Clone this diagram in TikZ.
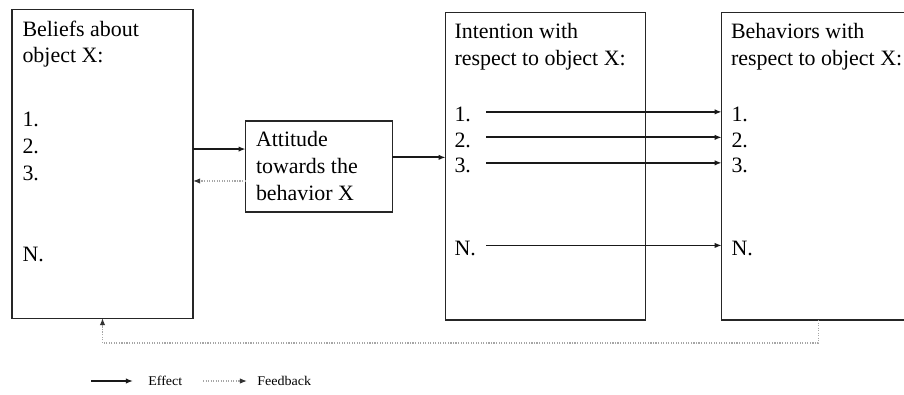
\documentclass[tikz,border=0pt]{standalone}
\usepackage{fontspec}
\setmainfont{Liberation Serif}
\usetikzlibrary{arrows.meta,calc}

\tikzset{
  box/.style={draw=black!85, line width=0.75pt, inner sep=0pt, outer sep=0pt},
  txt/.style={anchor=base west, inner sep=0pt, outer sep=0pt,
              font=\fontsize{15.6}{18.8}\selectfont},
  legtxt/.style={anchor=west, inner sep=0pt, font=\fontsize{10.3}{12}\selectfont},
  effect/.style={line width=1.3pt, black!90,
                 -{Latex[length=5pt,width=3.8pt]}},
  feedback/.style={line width=0.8pt, black!35, densely dotted,
                   -{Latex[length=5pt,width=3.8pt,black!80]}},
}

\begin{document}
\begin{tikzpicture}[x=0.025cm, y=-0.025cm]
  \useasboundingbox (0,0) rectangle (904,395);
  \clip (0,0) rectangle (904,395);
  \fill[white] (0,0) rectangle (904,395);

  % boxes
  \node[box, minimum width=4.525cm, minimum height=7.7cm]  (bel) at (102.5,164) {};
  \node[box, minimum width=3.66cm,  minimum height=2.275cm] (att) at (318.85,166.5) {};
  \node[box, minimum width=5cm,     minimum height=7.68cm] (int) at (545.7,166.35) {};
  \node[box, minimum width=4.83cm,  minimum height=7.68cm] (beh) at (818.35,166.35) {};

  % beliefs
  \node[txt] (belt1) at (22.5,36) {Beliefs about};
  \node[txt] (belt2) at (22.5,62.5) {object X:};
  \node[txt] (bel1) at (22.5,126.5) {1.};
  \node[txt] (bel2) at (22.5,153.5) {2.};
  \node[txt] (bel3) at (22.5,180) {3.};
  \node[txt] (belN) at (22.5,261.5) {N.};

  % attitude
  \node[txt] (att1) at (256,146.5) {Attitude};
  \node[txt] (att2) at (256,173.5) {towards the};
  \node[txt] (att3) at (256,200) {behavior X};

  % intention
  \node[txt] (intt1) at (454.5,38.5) {Intention with};
  \node[txt] (intt2) at (454.5,65) {respect to object X:};
  \node[txt] (i1) at (454.5,121.5) {1.};
  \node[txt] (i2) at (454.5,147) {2.};
  \node[txt] (i3) at (454.5,172.5) {3.};
  \node[txt] (iN) at (454.5,255) {N.};

  % behaviors
  \node[txt] (beht1) at (731,38.5) {Behaviors with};
  \node[txt] (beht2) at (731,65) {respect to object X:};
  \node[txt] (b1) at (731.5,121.5) {1.};
  \node[txt] (b2) at (731.5,147) {2.};
  \node[txt] (b3) at (731.5,172.5) {3.};
  \node[txt] (bN) at (731.5,255) {N.};

  % effect connectors
  \draw[effect] ([yshift=12.4pt]att.west -| bel.east) -- ([yshift=12.4pt]att.west);
  \draw[feedback] ([yshift=-10.3pt]att.west) -- ([yshift=-10.3pt]att.west -| bel.east);
  \draw[effect] ([yshift=6.5pt]att.east) -- ([yshift=6.5pt]att.east -| int.west);
  % item arrows share one start column
  \coordinate (armx) at ([xshift=11pt]i1.east);
  \foreach \s in {1,2,3,N}{
    \draw[effect] ([yshift=1.8pt]armx |- i\s.east) -- ([yshift=1.8pt]i\s.east -| beh.west);
  }

  % feedback loop from behaviors back to beliefs
  \draw[feedback] (beh.south) -- ++(0,23) -| (bel.south);

  % legend
  \coordinate (le1) at (91,381);
  \coordinate (le2) at (133,381);
  \coordinate (lf1) at (203,381);
  \coordinate (lf2) at (247,381);
  \draw[effect, line width=1pt] (le1) -- (le2);
  \draw[feedback] (lf1) -- (lf2);
  \node[legtxt] (leff) at (148,381) {\scalebox{0.97}[0.92]{Effect}};
  \node[legtxt] (lfb)  at (257,381) {\scalebox{0.97}[0.92]{Feedback}};
\end{tikzpicture}
\end{document}
